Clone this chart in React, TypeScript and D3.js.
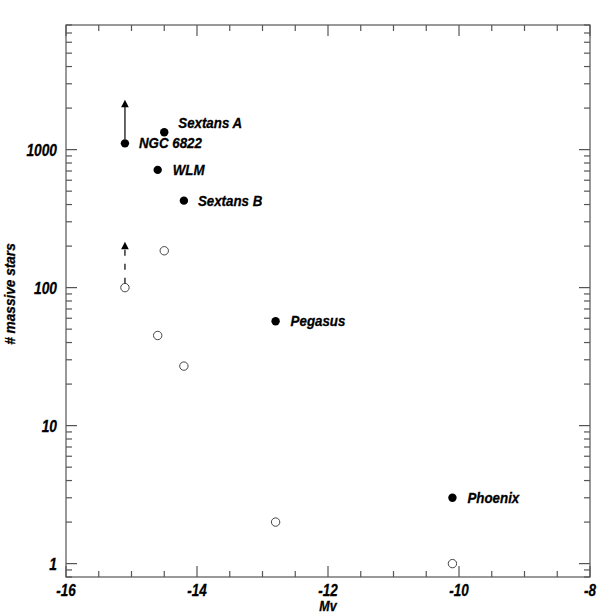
import React from "react";
import * as d3 from "d3";

const galaxies = ["NGC 6822", "Sextans A", "WLM", "Sextans B", "Pegasus", "Phoenix"];
const mvValues = [-15.1, -14.5, -14.6, -14.2, -12.8, -10.1];
const massiveStars = [1110, 1335, 713, 427, 57, 3];
const openStars = [100, 185, 45, 27, 2, 1];
const labelDx = [14, 14, 15, 14, 15, 15];
const labelDy = [5, -4, 5, 5, 5, 5];
const arrowTipsFilled = [2300];
const arrowTipsOpen = [215];
const xTicks = [-16, -14, -12, -10, -8];
const yTicks = [1, 10, 100, 1000];

const W = 600, H = 615;
const left = 66, right = 590, top = 25, bottom = 577;
const axisColor = "#555";
const font = "'Liberation Sans', Arial, Helvetica, sans-serif";

function Txt({ x, y, size, sx, anchor, rotate, children }: any) {
  return (
    <text
      transform={`translate(${x},${y})${rotate ? ` rotate(${rotate})` : ""} scale(${sx},1)`}
      textAnchor={anchor || "start"}
      fontFamily={font}
      fontWeight="bold"
      fontStyle="italic"
      fontSize={size}
      fill="#000"
      stroke="#000"
      strokeWidth={0.3}
    >
      {children}
    </text>
  );
}

export default function App() {
  const x = d3.scaleLinear().domain([-16, -8]).range([left, right]);
  const y = d3.scaleLog().domain([0.8, 8000]).range([bottom, top]);

  const xMinor = d3.range(-16, -7.99, 0.5);
  const yMinor: number[] = [];
  for (let e = -1; e <= 3; e++) {
    for (let m = 1; m <= 9; m++) {
      const v = m * Math.pow(10, e);
      if (v >= 0.8 && v <= 8000) yMinor.push(v);
    }
  }
  const isMajorX = (v: number) => Math.abs(v / 2 - Math.round(v / 2)) < 1e-6;
  const isMajorY = (v: number) => Math.abs(Math.log10(v) - Math.round(Math.log10(v))) < 1e-6;

  const arrow = (xv: number, fromV: number, tipV: number, dashed: boolean, key: string) => {
    const px = x(xv);
    const tipY = y(tipV);
    return (
      <g key={key}>
        <line x1={px} x2={px} y1={y(fromV) - 4} y2={tipY + 6} stroke="#000" strokeWidth={1.2}
          strokeDasharray={dashed ? "6,8" : undefined} />
        <path d={`M${px},${tipY} L${px - 3.8},${tipY + 7.5} L${px + 3.8},${tipY + 7.5} Z`} fill="#000" />
      </g>
    );
  };

  return (
    <svg width={W} height={H} style={{ position: "absolute", left: 0, top: 0, background: "#fff" }}>
      <rect x={left} y={top} width={right - left} height={bottom - top} fill="none" stroke={axisColor} strokeWidth={1.2} />
      {xMinor.map((v, i) => {
        const len = isMajorX(v) ? 11 : 6;
        return (
          <g key={"xt" + i}>
            <line x1={x(v)} x2={x(v)} y1={bottom} y2={bottom - len} stroke={axisColor} strokeWidth={1.2} />
            <line x1={x(v)} x2={x(v)} y1={top} y2={top + len} stroke={axisColor} strokeWidth={1.2} />
          </g>
        );
      })}
      {yMinor.map((v, i) => {
        const len = isMajorY(v) ? 11 : 6;
        return (
          <g key={"yt" + i}>
            <line x1={left} x2={left + len} y1={y(v)} y2={y(v)} stroke={axisColor} strokeWidth={1.2} />
            <line x1={right} x2={right - len} y1={y(v)} y2={y(v)} stroke={axisColor} strokeWidth={1.2} />
          </g>
        );
      })}
      {xTicks.map((v) => (
        <Txt key={"xl" + v} x={x(v)} y={bottom + 19} size={16.5} sx={0.82} anchor="middle">{v}</Txt>
      ))}
      {yTicks.map((v) => (
        <Txt key={"yl" + v} x={left - 9} y={y(v) + 6} size={17} sx={0.81} anchor="end">{v}</Txt>
      ))}
      <Txt x={x(-12)} y={611} size={14.5} sx={0.86} anchor="middle">Mv</Txt>
      <Txt x={15} y={294} size={15.5} sx={0.88} anchor="middle" rotate={-90}># massive stars</Txt>

      {arrow(mvValues[0], massiveStars[0], arrowTipsFilled[0], false, "a1")}
      {arrow(mvValues[0], openStars[0], arrowTipsOpen[0], true, "a2")}

      {openStars.map((v, i) => (
        <circle key={"o" + i} cx={x(mvValues[i])} cy={y(v)} r={4.2} fill="#fff" stroke="#444" strokeWidth={1} />
      ))}
      {massiveStars.map((v, i) => (
        <g key={"f" + i}>
          <circle cx={x(mvValues[i])} cy={y(v)} r={4.2} fill="#000" />
          <Txt x={x(mvValues[i]) + labelDx[i]} y={y(v) + labelDy[i]} size={15.5} sx={0.86}>{galaxies[i]}</Txt>
        </g>
      ))}
    </svg>
  );
}
